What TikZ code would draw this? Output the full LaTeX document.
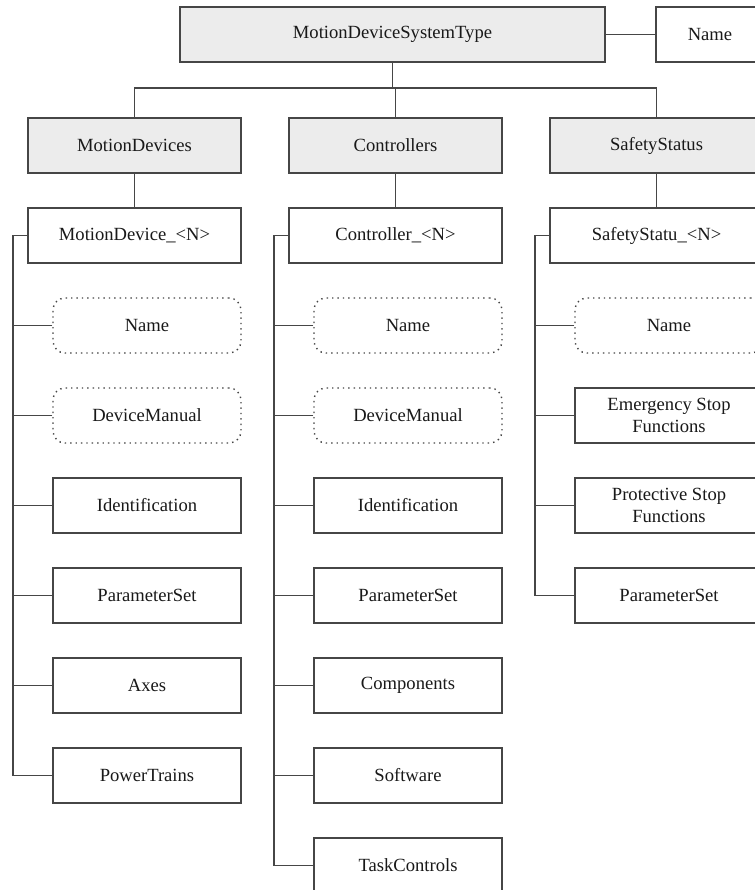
\documentclass[tikz,border=0pt]{standalone}
\usepackage{fontspec}
\setmainfont{Liberation Serif}
\usepackage{xcolor}
\usetikzlibrary{positioning}
\definecolor{lineG}{RGB}{70,70,70}
\definecolor{typeG}{RGB}{236,236,236}
\definecolor{txtK}{RGB}{25,25,25}

\begin{document}
\begin{tikzpicture}[
  x=0.5pt, y=-0.5pt,
  box/.style={draw=lineG, line width=0.7pt, align=center, text=txtK,
    font=\fontsize{9.3}{11}\selectfont, inner sep=1pt,
    minimum width=106.5pt, minimum height=27.5pt},
  typ/.style={box, fill=typeG},
  obj/.style={box, fill=white},
  kid/.style={box, minimum width=94pt},
  prop/.style={kid, dotted, rounded corners=6pt},
  link/.style={draw=lineG, line width=0.7pt}
]
\clip (0,0) rectangle (755,890);
\fill[white] (0,0) rectangle (755,890);

% top
\node[typ, minimum width=212.5pt] (sys) at (392.5,34.5) {MotionDeviceSystemType};
\node[obj, minimum width=54pt] (sysname) at (710,34.5) {Name};

% folders
\node[typ] (mds) at (134.5,145.5) {MotionDevices};
\node[typ] (ctls) at (395.5,145.5) {Controllers};
\node[typ] (safs) at (656.5,145.5) {SafetyStatus};

% instances
\node[obj] (md) at (134.5,235.5) {MotionDevice\_<N>};
\node[obj] (ctl) at (395.5,235.5) {Controller\_<N>};
\node[obj] (saf) at (656.5,235.5) {SafetyStatu\_<N>};

% motion device children
\node[prop] (mdName) at (147,325.5) {Name};
\node[prop] (mdMan) at (147,415.5) {DeviceManual};
\node[kid] (mdId) at (147,505.5) {Identification};
\node[kid] (mdPar) at (147,595.5) {ParameterSet};
\node[kid] (mdAx) at (147,685.5) {Axes};
\node[kid] (mdPT) at (147,775.5) {PowerTrains};

% controller children
\node[prop] (ctlName) at (408,325.5) {Name};
\node[prop] (ctlMan) at (408,415.5) {DeviceManual};
\node[kid] (ctlId) at (408,505.5) {Identification};
\node[kid] (ctlPar) at (408,595.5) {ParameterSet};
\node[kid] (ctlComp) at (408,685.5) {Components};
\node[kid] (ctlSw) at (408,775.5) {Software};
\node[kid] (ctlTask) at (408,865.5) {TaskControls};

% safety children
\node[prop] (safName) at (669,325.5) {Name};
\node[kid] (safEm) at (669,415.5) {Emergency Stop\\Functions};
\node[kid] (safPro) at (669,505.5) {Protective Stop\\Functions};
\node[kid] (safPar) at (669,595.5) {ParameterSet};

% connectors
\coordinate (bus) at (0,88);
\coordinate (mdBus) at (13,0);
\coordinate (ctlBus) at (274,0);
\coordinate (safBus) at (535,0);

\draw[link] (sys) -- (sysname);
\draw[link] (sys.south) -- (sys.south |- bus);
\draw[link] (mds.north) |- (sys.south |- bus) -| (safs.north);
\draw[link] (ctls.north) -- (ctls.north |- bus);
\draw[link] (mds) -- (md);
\draw[link] (ctls) -- (ctl);
\draw[link] (safs) -- (saf);

\draw[link] (md.west) -| (mdBus |- mdPT.west) -- (mdPT.west);
\foreach \k in {mdName,mdMan,mdId,mdPar,mdAx}
  \draw[link] (\k.west) -- (\k.west -| mdBus);

\draw[link] (ctl.west) -| (ctlBus |- ctlTask.west) -- (ctlTask.west);
\foreach \k in {ctlName,ctlMan,ctlId,ctlPar,ctlComp,ctlSw}
  \draw[link] (\k.west) -- (\k.west -| ctlBus);

\draw[link] (saf.west) -| (safBus |- safPar.west) -- (safPar.west);
\foreach \k in {safName,safEm,safPro}
  \draw[link] (\k.west) -- (\k.west -| safBus);

\end{tikzpicture}
\end{document}
